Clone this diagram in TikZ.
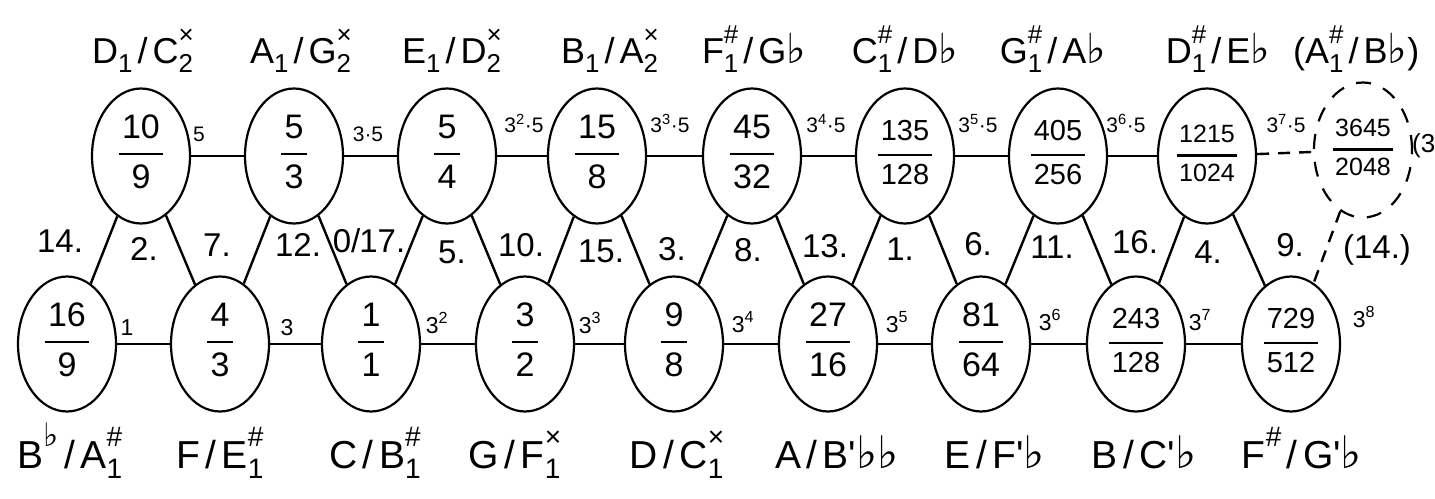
\documentclass[tikz,border=0pt]{standalone}
\usepackage{graphicx}
\usepackage{fontspec}
\setmainfont{Liberation Sans}
\newfontfamily\symf{DejaVu Sans}
\usetikzlibrary{shapes.geometric}
\newcommand\fl{{\symf\scalebox{1.15}{♭}}}
\newcommand\lo[1]{\raisebox{-0.26em}{\scalebox{0.72}{#1}}}
\newcommand\hi[1]{\raisebox{0.55em}{\scalebox{0.72}{#1}}}
\newcommand\subsup[2]{\setbox0\hbox{\hi{#2}}\setbox2\hbox{\lo{#1}}\ifdim\wd0>\wd2 \rlap{\box2}\box0\else\rlap{\box0}\box2\fi}
\newcommand\sla{\kern0.14em/\kern0.14em}
\newcommand\fr[4]{{\fontsize{#1}{#2}\selectfont\setlength\arrayrulewidth{2.6pt}\begin{tabular}{@{\hspace{0.1em}}c@{\hspace{0.1em}}}#3\\[3pt]\hline\rule{0pt}{0.98em}#4\end{tabular}}}
\newcommand\tf[1]{3\textsuperscript{#1}·5}
\begin{document}
\begin{tikzpicture}[x=1pt,y=-1pt,
  ell/.style={ellipse, draw, line width=2.2pt, minimum width=98pt, minimum height=135pt, inner sep=0pt},
  conn/.style={line width=2.4pt},
  dconn/.style={line width=2.4pt, dash pattern=on 12pt off 9pt},
  tlab/.style={font=\fontsize{36}{40}\selectfont, inner sep=0pt, anchor=base},
  blab/.style={font=\fontsize{39}{44}\selectfont, inner sep=0pt, anchor=base},
  elab/.style={font=\fontsize{21}{24}\selectfont, inner sep=0pt, anchor=base},
  belab/.style={font=\fontsize{23}{26}\selectfont, inner sep=0pt, anchor=base},
  mid/.style={font=\fontsize{33}{38}\selectfont, inner sep=0pt}]
\useasboundingbox[fill=white] (0,0) rectangle (1435,498);
% upper row
\node[ell] (t0) at (141,156) {\fr{34}{38}{10}{9}};
\node[ell] (t1) at (294,156) {\fr{34}{38}{5}{3}};
\node[ell] (t2) at (447,156) {\fr{34}{38}{5}{4}};
\node[ell] (t3) at (597,156) {\fr{34}{38}{15}{8}};
\node[ell] (t4) at (752,156) {\fr{34}{38}{45}{32}};
\node[ell] (t5) at (905,156) {\fr{29}{33}{135}{128}};
\node[ell] (t6) at (1058,156) {\fr{29}{33}{405}{256}};
\node[ell] (t7) at (1207,156) {\fr{25}{29}{1215}{1024}};
\node[ell, dash pattern=on 15pt off 13pt] (t8) at (1363,150) {\fr{25}{29}{3645}{2048}};
% lower row
\node[ell] (b0) at (67,344) {\fr{34}{38}{16}{9}};
\node[ell] (b1) at (220,344) {\fr{34}{38}{4}{3}};
\node[ell] (b2) at (371,344) {\fr{34}{38}{1}{1}};
\node[ell] (b3) at (525,344) {\fr{34}{38}{3}{2}};
\node[ell] (b4) at (674,344) {\fr{34}{38}{9}{8}};
\node[ell] (b5) at (828,344) {\fr{34}{38}{27}{16}};
\node[ell] (b6) at (981,344) {\fr{34}{38}{81}{64}};
\node[ell] (b7) at (1136,344) {\fr{29}{33}{243}{128}};
\node[ell] (b8) at (1291,344) {\fr{29}{33}{729}{512}};
% connectors
\draw[conn] (t0)--(t1) (t1)--(t2) (t2)--(t3) (t3)--(t4) (t4)--(t5) (t5)--(t6) (t6)--(t7);
\draw[dconn] (t7)--(t8);
\draw[conn] (b0)--(b1) (b1)--(b2) (b2)--(b3) (b3)--(b4) (b4)--(b5) (b5)--(b6) (b6)--(b7) (b7)--(b8);
\draw[conn] (t0)--(b0) (t0)--(b1) (t1)--(b1) (t1)--(b2) (t2)--(b2) (t2)--(b3)
  (t3)--(b3) (t3)--(b4) (t4)--(b4) (t4)--(b5) (t5)--(b5) (t5)--(b6)
  (t6)--(b6) (t6)--(b7) (t7)--(b7) (t7)--(b8);
\draw[dconn] (t8)--(b8);
% upper edge labels
\node[elab] (e0) at (199,141) {5};
\node[elab] (e1) at (368,141) {3·5};
\node[elab] (e2) at (524,132) {\tf{2}};
\node[elab] (e3) at (670,132) {\tf{3}};
\node[elab] (e4) at (826,132) {\tf{4}};
\node[elab] (e5) at (978,132) {\tf{5}};
\node[elab] (e6) at (1126,132) {\tf{6}};
\node[elab] (e7) at (1286,132) {\tf{7}};
\node[font=\fontsize{26}{30}\selectfont, inner sep=0pt, anchor=base west] (e8) at (1412,152) {(3};
% lower edge labels
\node[belab] (f0) at (127,335) {1};
\node[belab] (f1) at (287,335) {3};
\node[belab] (f2) at (437,333) {3\textsuperscript{2}};
\node[belab] (f3) at (590,333) {3\textsuperscript{3}};
\node[belab] (f4) at (743,332) {3\textsuperscript{4}};
\node[belab] (f5) at (897,332) {3\textsuperscript{5}};
\node[belab] (f6) at (1050,330) {3\textsuperscript{6}};
\node[belab] (f7) at (1200,330) {3\textsuperscript{7}};
\node[belab] (f8) at (1364,327) {3\textsuperscript{8}};
% middle numbers
\node[mid] (m0) at (60,241) {14.};
\node[mid] (m1) at (144,249) {2.};
\node[mid] (m2) at (217,245) {7.};
\node[mid] (m3) at (298,245) {12.};
\node[mid] (m4) at (369,241) {0/\kern-1pt17.};
\node[mid] (m5) at (452,252) {5.};
\node[mid] (m6) at (521,245) {10.};
\node[mid] (m7) at (601,251) {15.};
\node[mid] (m8) at (672,249) {3.};
\node[mid] (m9) at (748,250) {8.};
\node[mid] (m10) at (825,246) {13.};
\node[mid] (m11) at (900,249) {1.};
\node[mid] (m12) at (978,244) {6.};
\node[mid] (m13) at (1052,247) {11.};
\node[mid] (m14) at (1135,242) {16.};
\node[mid] (m15) at (1208,252) {4.};
\node[mid] (m16) at (1290,245) {9.};
\node[mid] (m17) at (1377,250) {(14.)};
% upper note names
\node[tlab] (n0) at (143,63) {D\lo{1}\sla C\subsup{2}{×}};
\node[tlab] (n1) at (301,63) {A\lo{1}\sla G\subsup{2}{×}};
\node[tlab] (n2) at (452,63) {E\lo{1}\sla D\subsup{2}{×}};
\node[tlab] (n3) at (610,63) {B\lo{1}\sla A\subsup{2}{×}};
\node[tlab] (n4) at (754,63) {F\subsup{1}{\#}\sla G\fl};
\node[tlab] (n5) at (905,63) {C\subsup{1}{\#}\sla D\fl};
\node[tlab] (n6) at (1053,63) {G\subsup{1}{\#}\sla A\fl};
\node[tlab] (n7) at (1218,63) {D\subsup{1}{\#}\sla E\fl};
\node[tlab, anchor=base west] (n8) at (1293,63) {(A\subsup{1}{\#}\sla B\fl)};
% lower note names
\node[blab] (l0) at (70,468) {B\hi{\fl}\sla A\subsup{1}{\#}};
\node[blab] (l1) at (220,468) {F\sla E\subsup{1}{\#}};
\node[blab] (l2) at (375,468) {C\sla B\subsup{1}{\#}};
\node[blab] (l3) at (515,468) {G\sla F\subsup{1}{×}};
\node[blab] (l4) at (677,468) {D\sla C\subsup{1}{×}};
\node[blab] (l5) at (837,468) {A\sla B\textquotesingle\fl\fl};
\node[blab] (l6) at (995,468) {E\sla F\textquotesingle\fl};
\node[blab] (l7) at (1144,468) {B\sla C\textquotesingle\fl};
\node[blab] (l8) at (1302,468) {F\hi{\#}\sla G\textquotesingle\fl};
\end{tikzpicture}
\end{document}
